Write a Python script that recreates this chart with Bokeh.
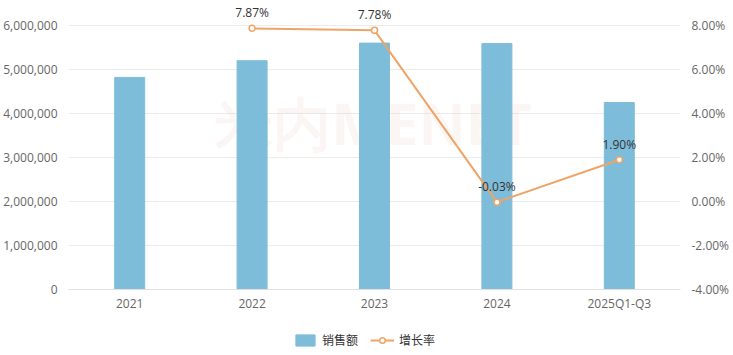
from bokeh.plotting import figure
from bokeh.layouts import column
from bokeh.models import (Range1d, LinearAxis, NumeralTickFormatter, PrintfTickFormatter,
                          ColumnDataSource, Legend, LegendItem, FixedTicker, Label)
from bokeh.core.properties import value
from bokeh.embed import file_html
from bokeh.resources import INLINE

categories = ["2021", "2022", "2023", "2024", "2025Q1-Q3"]
sales = [4820000, 5200000, 5600000, 5590000, 4250000]
growth = [None, 7.87, 7.78, -0.03, 1.90]
growth_labels = ["", "7.87%", "7.78%", "-0.03%", "1.90%"]
left_ticks = [0, 1000000, 2000000, 3000000, 4000000, 5000000, 6000000]
right_ticks = [-4, -2, 0, 2, 4, 6, 8]
series_names = ["销售额", "增长率"]

FONT = "Open Sans"
BAR = "#7ebdda"
LINE = "#efa466"

# axis extents (6,000,000 / 8% sit 20px below the frame top so labels fit)
extra = 284 / 264
p = figure(x_range=categories, y_range=Range1d(0, 6000000 * extra), width=733, height=318,
           output_backend="svg", toolbar_location=None,
           min_border_left=66, min_border_right=53, min_border_top=5, min_border_bottom=29)
p.outline_line_color = None
p.background_fill_color = "white"
p.border_fill_color = "white"

p.extra_y_ranges = {"g": Range1d(-4, -4 + 12 * extra)}

wm = Label(x=305, y=128, x_units="screen", y_units="screen", text="米内MENET",
           text_font_size="58px", text_font_style="bold", text_color="#e8c8bd",
           text_alpha=0.16, text_align="center", text_font=FONT, level="underlay")
p.add_layout(wm)

bsrc = ColumnDataSource(dict(x=categories, y=sales))
bars = p.vbar(x="x", top="y", width=0.245, source=bsrc, color=BAR)

gx = [c for c, g in zip(categories, growth) if g is not None]
gy = [g for g in growth if g is not None]
gl = [l for l, g in zip(growth_labels, growth) if g is not None]
lsrc = ColumnDataSource(dict(x=gx, y=gy, t=gl))
line = p.line(x="x", y="y", source=lsrc, y_range_name="g", color=LINE, line_width=2)
pts = p.scatter(x="x", y="y", source=lsrc, y_range_name="g", size=6, fill_color="white",
                line_color=LINE, line_width=1.5)
p.text(x="x", y="y", text="t", source=lsrc, y_range_name="g", text_align="center",
       text_baseline="bottom", y_offset=-7, text_font_size="12px", text_color="#333333",
       text_font=value(FONT))

# left axis
ax = p.yaxis[0]
ax.ticker = FixedTicker(ticks=left_ticks)
ax.formatter = NumeralTickFormatter(format="0,0")
ax.axis_line_color = None
ax.major_tick_line_color = None
ax.minor_tick_line_color = None
ax.major_label_text_color = "#666666"
ax.major_label_text_font = FONT
ax.major_label_text_font_size = "12px"

rax = LinearAxis(y_range_name="g", ticker=FixedTicker(ticks=right_ticks),
                 formatter=PrintfTickFormatter(format="%.2f%%"))
rax.axis_line_color = None
rax.major_tick_line_color = None
rax.minor_tick_line_color = None
rax.major_label_text_color = "#666666"
rax.major_label_text_font = FONT
rax.major_label_text_font_size = "12px"
p.add_layout(rax, "right")

xa = p.xaxis[0]
xa.axis_line_color = "#e0e0e0"
xa.major_tick_line_color = None
xa.minor_tick_line_color = None
xa.major_tick_out = 0
xa.major_label_text_color = "#666666"
xa.major_label_text_font = FONT
xa.major_label_text_font_size = "12px"
xa.major_label_standoff = 5

p.xgrid.grid_line_color = None
p.ygrid.grid_line_color = "#ebebeb"

# legend strip: same series drawn against a range they never reach, so only the legend shows
q = figure(width=733, height=37, x_range=categories, y_range=Range1d(1e12, 2e12),
           output_backend="svg", toolbar_location=None,
           min_border_left=0, min_border_right=0, min_border_top=0, min_border_bottom=0)
q.axis.visible = False
q.grid.visible = False
q.outline_line_color = None
q.background_fill_color = "white"
q.border_fill_color = "white"
lb = q.vbar(x="x", top="y", width=0.245, source=bsrc, color=BAR)
ll = q.line(x="x", y="y", source=lsrc, color=LINE, line_width=2)
lp = q.scatter(x="x", y="y", source=lsrc, size=10, fill_color="white", line_color=LINE,
               line_width=1.5)
legend = Legend(items=[LegendItem(label=series_names[0], renderers=[lb]),
                       LegendItem(label=series_names[1], renderers=[ll, lp])],
                orientation="horizontal", location=(225, 7), margin=0, padding=4,
                label_text_font="Noto Sans CJK SC", label_text_font_size="12px",
                label_text_color="#333333", border_line_color=None,
                background_fill_alpha=0, spacing=12, glyph_width=24, glyph_height=14,
                label_standoff=5)
q.add_layout(legend)

open("out.html", "w").write(file_html(column(p, q, spacing=0), INLINE))
